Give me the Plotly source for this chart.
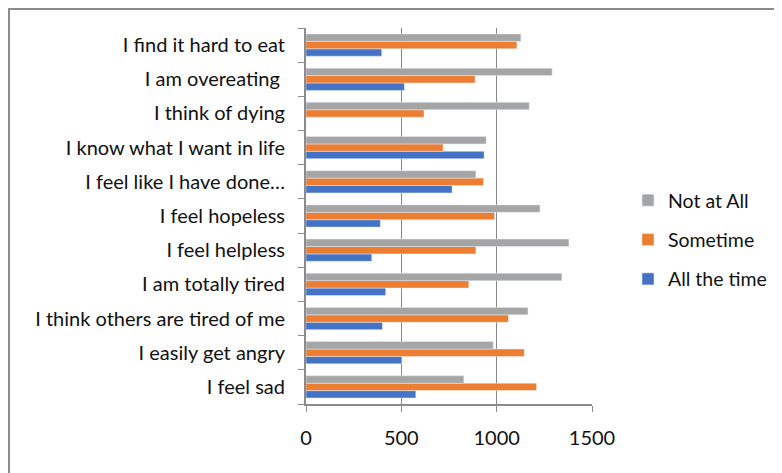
import plotly.graph_objects as go

categories = [
    "I feel sad",
    "I easily get angry",
    "I think others are tired of me",
    "I am totally tired",
    "I feel helpless",
    "I feel hopeless",
    "I feel like I have done…",
    "I know what I want in life",
    "I think of dying",
    "I am overeating ",
    "I find it hard to eat",
]
all_the_time = [576, 502, 401, 418, 345, 390, 766, 934, 0, 516, 397]
sometime = [1209, 1145, 1062, 854, 891, 989, 931, 719, 619, 887, 1106]
not_at_all = [828, 982, 1164, 1342, 1379, 1227, 891, 945, 1171, 1291, 1127]
x_ticks = [0, 500, 1000, 1500]

FONT = "Lato"
W, H = 774, 465          # page adds an 8px body margin
L, R, T, B = 298, 190, 20, 69
PW, PH = W - L - R, H - T - B

fig = go.Figure()
fig.add_trace(go.Bar(y=categories, x=all_the_time, orientation="h", name="All the time",
                     marker=dict(color="#4472C4"), legendrank=3, legendgroup="c"))
fig.add_trace(go.Bar(y=categories, x=sometime, orientation="h", name="Sometime",
                     marker=dict(color="#ED7D31"), legendrank=2, legendgroup="b"))
fig.add_trace(go.Bar(y=categories, x=not_at_all, orientation="h", name="Not at All",
                     marker=dict(color="#A5A5A5"), legendrank=1, legendgroup="a"))

fig.update_layout(
    width=W, height=H,
    margin=dict(l=L, r=R, t=T, b=B, autoexpand=False),
    paper_bgcolor="white", plot_bgcolor="white",
    barmode="group", bargap=0.35, bargroupgap=0,
    font=dict(family=FONT, size=20, color="#111111"),
    legend=dict(x=(620 - L) / PW, y=(H - B - 232) / PH, xanchor="left", yanchor="middle",
                traceorder="grouped", tracegroupgap=11, font=dict(size=19.5), itemwidth=30,
                bgcolor="rgba(0,0,0,0)"),
    showlegend=True,
    xaxis=dict(range=[0, 1500], tickvals=x_ticks, ticktext=[str(v) for v in x_ticks],
               showgrid=True, gridcolor="#888888", gridwidth=1,
               showline=True, linecolor="#8C8C8C", linewidth=2,
               ticks="outside", ticklen=6, tickcolor="#8C8C8C",
               ticklabelstandoff=9, zeroline=False, automargin=False),
    yaxis=dict(showline=True, linecolor="#8C8C8C", linewidth=2,
               ticks="outside", ticklen=6, tickcolor="#8C8C8C", tickson="boundaries",
               ticklabelstandoff=15, showgrid=False, automargin=False),
    shapes=[
        dict(type="line", xref="paper", yref="paper",
             x0=(0 - L) / PW, x1=(W - L) / PW, y0=(H - B - 1) / PH, y1=(H - B - 1) / PH,
             line=dict(color="#8C8C8C", width=2)),
        dict(type="line", xref="paper", yref="paper",
             x0=(1 - L) / PW, x1=(1 - L) / PW, y0=-B / PH, y1=(H - B - 1) / PH,
             line=dict(color="#8C8C8C", width=2)),
    ],
)
fig.write_html("out.html")
